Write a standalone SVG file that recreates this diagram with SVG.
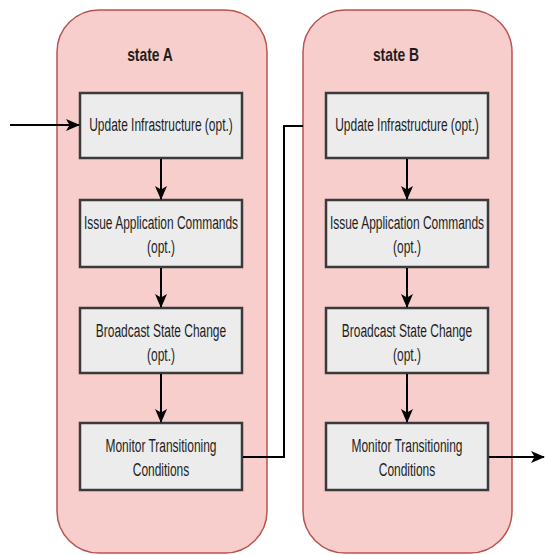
<svg xmlns="http://www.w3.org/2000/svg" width="545" height="555" viewBox="0 0 545 555">
<style>
.state{fill:#f8cecc;stroke:#b85450;stroke-width:1.5}
.box{fill:#ececec;stroke:#3a3a3a;stroke-width:2.5}
.t{font-family:"Liberation Sans",Arial,sans-serif;font-size:19px;fill:#1e1e1e;text-anchor:middle}
.title{font-family:"Liberation Sans",Arial,sans-serif;font-size:19px;font-weight:bold;fill:#1e1e1e;text-anchor:middle}
.c{fill:none;stroke:#000;stroke-width:2}
</style>
<defs>
<marker id="ah" markerUnits="userSpaceOnUse" markerWidth="14" markerHeight="14" viewBox="0 0 14 14" refX="13" refY="7" orient="auto">
<path d="M0,1 L14,7 L0,13 L3.5,7 Z" fill="#000"/>
</marker>
</defs>
<g id="stateA">
<rect class="state" x="57" y="10" width="210" height="543" rx="42"/>
<text class="title" transform="translate(150,61) scale(0.73,1)">state A</text>
</g>
<g id="stateB">
<rect class="state" x="303" y="10" width="209" height="543" rx="42"/>
<text class="title" transform="translate(396,61) scale(0.73,1)">state B</text>
</g>
<g id="a1"><rect class="box" x="80" y="93" width="162" height="65"/>
<text class="t" transform="translate(161,131) scale(0.63,1)">Update Infrastructure (opt.)</text></g>
<g id="a2"><rect class="box" x="80" y="200" width="162" height="67"/>
<text class="t" transform="translate(161,229) scale(0.63,1)">Issue Application Commands</text>
<text class="t" transform="translate(161,253) scale(0.63,1)">(opt.)</text></g>
<g id="a3"><rect class="box" x="80" y="308" width="162" height="65"/>
<text class="t" transform="translate(161,337) scale(0.63,1)">Broadcast State Change</text>
<text class="t" transform="translate(161,361) scale(0.63,1)">(opt.)</text></g>
<g id="a4"><rect class="box" x="80" y="423" width="162" height="67"/>
<text class="t" transform="translate(161,452) scale(0.63,1)">Monitor Transitioning</text>
<text class="t" transform="translate(161,476) scale(0.63,1)">Conditions</text></g>
<g id="b1"><rect class="box" x="326" y="93" width="162" height="65"/>
<text class="t" transform="translate(407,131) scale(0.63,1)">Update Infrastructure (opt.)</text></g>
<g id="b2"><rect class="box" x="326" y="200" width="162" height="67"/>
<text class="t" transform="translate(407,229) scale(0.63,1)">Issue Application Commands</text>
<text class="t" transform="translate(407,253) scale(0.63,1)">(opt.)</text></g>
<g id="b3"><rect class="box" x="326" y="308" width="162" height="65"/>
<text class="t" transform="translate(407,337) scale(0.63,1)">Broadcast State Change</text>
<text class="t" transform="translate(407,361) scale(0.63,1)">(opt.)</text></g>
<g id="b4"><rect class="box" x="326" y="423" width="162" height="67"/>
<text class="t" transform="translate(407,452) scale(0.63,1)">Monitor Transitioning</text>
<text class="t" transform="translate(407,476) scale(0.63,1)">Conditions</text></g>
<g id="connectors">
<path class="c" d="M10,125 H79" stroke-width="2.5" marker-end="url(#ah)"/>
<path class="c" d="M161,159 V199" marker-end="url(#ah)"/>
<path class="c" d="M161,268 V307" marker-end="url(#ah)"/>
<path class="c" d="M161,374 V422" marker-end="url(#ah)"/>
<path class="c" d="M407,159 V199" marker-end="url(#ah)"/>
<path class="c" d="M407,268 V307" marker-end="url(#ah)"/>
<path class="c" d="M407,374 V422" marker-end="url(#ah)"/>
<path class="c" d="M243,457 H284 V126 H303"/>
<path class="c" d="M489,457 H544" marker-end="url(#ah)"/>
</g>
</svg>
